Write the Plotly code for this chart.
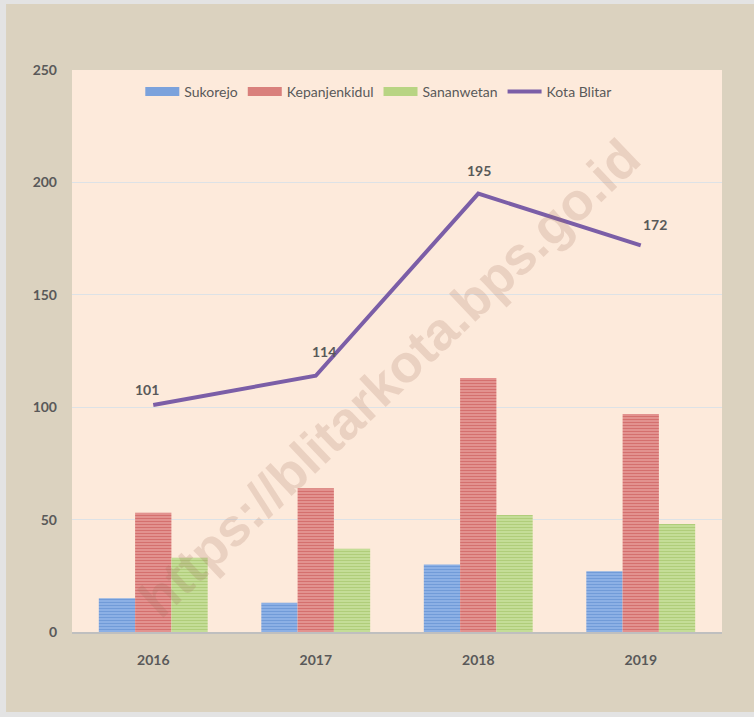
import plotly.graph_objects as go

years = ["2016", "2017", "2018", "2019"]
sukorejo = [15, 13, 30, 27]
kepanjenkidul = [53, 64, 113, 97]
sananwetan = [33, 37, 52, 48]
kota_blitar = [101, 114, 195, 172]
y_ticks = [0, 50, 100, 150, 200, 250]

# label offsets (pixels) for the Kota Blitar data labels
label_dx = [-6, 8, 1, 14]
label_dy = [15, 24, 23, 21]

FONT = "Lato"
GREY = "#595959"

fig = go.Figure()

bar_styles = [
    ("Sukorejo", sukorejo, "#98b9e9", "#4a7dc8", "#7ba2dc"),
    ("Kepanjenkidul", kepanjenkidul, "#e8a19e", "#c0403d", "#d9807c"),
    ("Sananwetan", sananwetan, "#cde3a4", "#93b850", "#b8d483"),
]
for name, vals, bg, fg, mid in bar_styles:
    fig.add_trace(go.Bar(
        x=years, y=vals, name=name, showlegend=False,
        marker=dict(color=bg, line=dict(width=0),
                    pattern=dict(shape="-", fgcolor=fg, bgcolor=bg,
                                 size=3, solidity=0.55, fillmode="overlay")),
    ))

fig.add_trace(go.Scatter(
    x=years, y=kota_blitar, name="Kota Blitar", mode="lines", showlegend=False,
    line=dict(color="#7b5ea7", width=4),
))

# legend entries (wide swatches like the original)
for name, vals, bg, fg, mid in bar_styles:
    fig.add_trace(go.Scatter(x=[None], y=[None], mode="lines", name=name,
                             line=dict(color=mid, width=9)))
fig.add_trace(go.Scatter(x=[None], y=[None], mode="lines", name="Kota Blitar",
                         line=dict(color="#7b5ea7", width=4)))

for i, v in enumerate(kota_blitar):
    fig.add_annotation(x=i, y=v, text=f"<b>{v}</b>", showarrow=False,
                       xshift=label_dx[i], yshift=label_dy[i],
                       font=dict(family=FONT, size=14, color=GREY))

# watermark
fig.add_annotation(x=0.489, y=0.452, xref="paper", yref="paper",
                   text="<b>https://blitarkota.bps.go.id</b>", showarrow=False,
                   textangle=-43.5,
                   font=dict(family="Liberation Sans", size=53,
                             color="rgba(160,110,90,0.2)"))

# light outer frame strips (left, top, bottom)
for x0, x1, y0, y1 in [(-0.111, -0.1015, -0.152, 1.125),
                       (-0.111, 1.05, 1.1174, 1.125),
                       (-0.111, 1.05, -0.152, -0.1423)]:
    fig.add_shape(type="rect", xref="paper", yref="paper",
                  x0=x0, x1=x1, y0=y0, y1=y1,
                  line=dict(width=0), fillcolor="#e3e3e3", layer="below")

fig.update_layout(
    width=754, height=717,
    margin=dict(l=72, r=32, t=70, b=85),
    paper_bgcolor="#dbd2bf",
    plot_bgcolor="#fdeadb",
    barmode="group", bargap=0.33, bargroupgap=0,
    showlegend=True,
    legend=dict(orientation="h", x=0.472, xanchor="center", y=0.961, yanchor="middle",
                font=dict(family=FONT, size=14, color=GREY),
                bgcolor="rgba(0,0,0,0)", itemwidth=34, traceorder="normal"),
    font=dict(family=FONT, color=GREY),
)
fig.update_xaxes(
    type="category", range=[-0.5, 3.5],
    showgrid=False, showline=True, linecolor="#bfbfbf", linewidth=2,
    ticks="", ticklabelstandoff=14,
    tickfont=dict(family=FONT, size=14, color=GREY, weight="bold"),
)
fig.update_yaxes(
    range=[0, 250], tickvals=y_ticks, showgrid=True, gridcolor="#dde2e6", gridwidth=1,
    zeroline=False, showline=False, ticks="", ticklabelstandoff=14,
    tickfont=dict(family=FONT, size=14, color=GREY, weight="bold"),
)

fig.write_html("out.html", config={"displayModeBar": False},
               post_script="document.body.style.margin='0px';document.body.style.overflow='hidden';")
